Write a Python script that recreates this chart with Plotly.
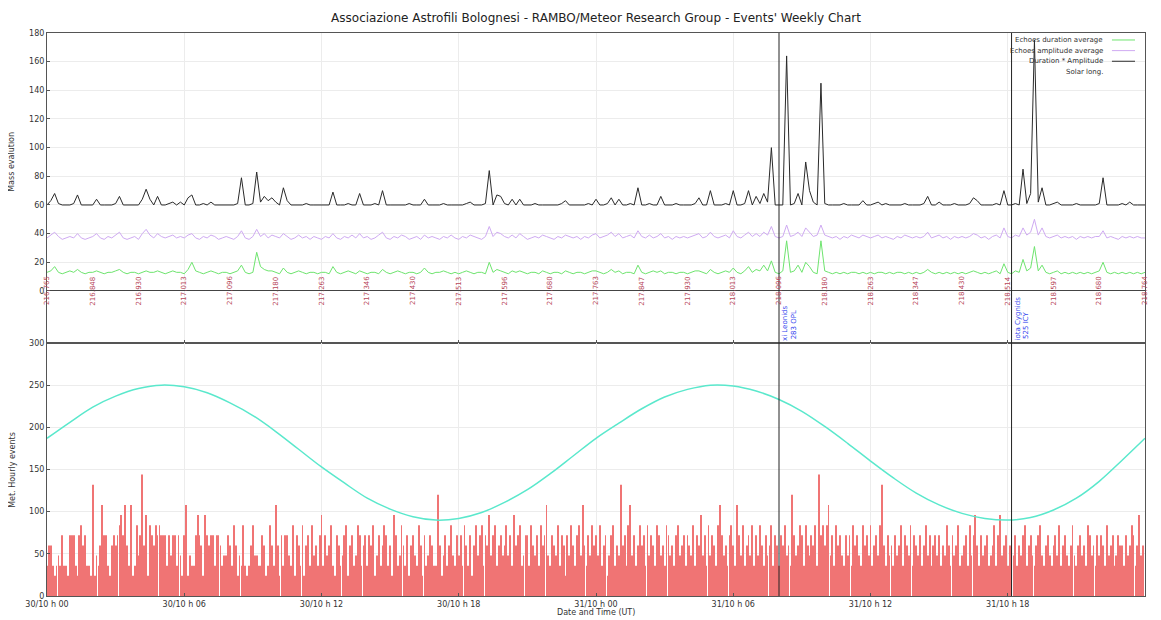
import pandas as pd
import plotly.graph_objects as go

TITLE = "Associazione Astrofili Bolognesi - RAMBO/Meteor Research Group - Events' Weekly Chart"
START = "2009-10-30 00:00"
END = "2009-11-01 00:00"

# top panel, one sample every 10 minutes (2 hours per row)
dur_amp = [
    60, 63, 68, 61, 60, 60, 60, 61, 67, 60, 60, 60,
    60, 64, 60, 60, 60, 60, 61, 66, 60, 60, 60, 60,
    60, 64, 71, 64, 60, 66, 60, 60, 61, 62, 60, 62,
    60, 65, 67, 60, 60, 61, 60, 62, 60, 60, 60, 60,
    60, 60, 61, 79, 60, 60, 61, 83, 62, 66, 63, 65,
    62, 60, 72, 63, 60, 60, 60, 60, 61, 60, 60, 60,
    60, 60, 60, 69, 60, 60, 60, 61, 60, 60, 68, 60,
    60, 60, 61, 60, 70, 60, 60, 60, 60, 60, 60, 61,
    60, 60, 60, 64, 60, 60, 60, 60, 61, 60, 60, 60,
    60, 60, 61, 62, 60, 60, 60, 61, 84, 60, 67, 66,
    61, 60, 64, 60, 64, 60, 60, 60, 61, 60, 60, 60,
    60, 60, 60, 61, 63, 60, 60, 60, 60, 60, 61, 60,
    64, 60, 60, 61, 65, 60, 64, 60, 60, 61, 60, 72,
    60, 60, 61, 60, 60, 66, 60, 60, 60, 61, 60, 60,
    60, 60, 61, 65, 60, 60, 70, 60, 60, 60, 61, 60,
    70, 60, 60, 61, 70, 60, 66, 61, 68, 62, 100, 60,
    60, 60, 164, 60, 61, 68, 60, 90, 70, 62, 60, 145,
    61, 60, 60, 60, 60, 61, 60, 60, 60, 60, 63, 60,
    60, 61, 62, 60, 61, 60, 60, 60, 60, 61, 60, 60,
    60, 60, 61, 66, 60, 60, 62, 60, 60, 60, 61, 60,
    60, 60, 61, 65, 63, 60, 60, 60, 60, 61, 60, 70,
    60, 60, 61, 60, 85, 61, 68, 175, 62, 72, 60, 60,
    61, 62, 60, 60, 60, 60, 61, 60, 60, 60, 60, 60,
    61, 79, 60, 60, 60, 60, 61, 60, 62, 60, 60, 60,
    60,
]
amp_avg = [
    37, 39, 41, 38, 36, 37, 38, 37, 40, 37, 36, 37,
    38, 40, 37, 36, 38, 37, 39, 41, 37, 36, 37, 38,
    36, 40, 43, 39, 37, 40, 38, 37, 38, 39, 37, 38,
    37, 39, 40, 37, 36, 38, 37, 39, 38, 36, 37, 38,
    37, 36, 38, 42, 37, 36, 38, 43, 38, 40, 37, 39,
    38, 37, 40, 38, 36, 37, 39, 37, 38, 36, 38, 37,
    36, 38, 37, 40, 37, 36, 38, 37, 39, 37, 40, 37,
    38, 36, 37, 39, 41, 37, 36, 38, 37, 39, 38, 36,
    37, 38, 36, 39, 37, 38, 37, 36, 38, 37, 39, 37,
    36, 38, 37, 39, 38, 37, 36, 38, 45, 38, 41, 40,
    38, 37, 39, 37, 40, 38, 36, 37, 38, 37, 39, 38,
    37, 36, 38, 37, 39, 38, 37, 38, 36, 38, 37, 39,
    40, 37, 38, 39, 41, 38, 40, 37, 38, 39, 37, 42,
    38, 37, 39, 37, 38, 40, 37, 38, 36, 38, 37, 38,
    37, 38, 39, 40, 37, 38, 41, 38, 37, 38, 39, 37,
    42, 38, 37, 39, 41, 38, 40, 38, 41, 39, 45, 38,
    37, 38, 46, 38, 39, 41, 38, 44, 41, 38, 39, 46,
    39, 38, 37, 38, 36, 38, 37, 39, 38, 37, 39, 38,
    37, 38, 39, 37, 38, 37, 36, 38, 37, 39, 38, 37,
    38, 37, 38, 41, 37, 38, 39, 37, 38, 36, 38, 37,
    38, 37, 38, 40, 39, 37, 38, 36, 38, 39, 37, 44,
    38, 37, 39, 38, 44, 39, 41, 50, 39, 44, 38, 37,
    38, 39, 37, 38, 37, 38, 36, 38, 37, 38, 37, 38,
    38, 42, 37, 38, 37, 36, 38, 37, 38, 37, 38, 37,
    37,
]
dur_avg = [
    13, 14, 17, 13, 12, 13, 14, 13, 15, 13, 12, 13,
    13, 14, 13, 12, 13, 13, 14, 15, 13, 12, 13, 13,
    12, 13, 14, 13, 13, 14, 13, 12, 13, 14, 13, 13,
    12, 15, 20, 14, 13, 12, 13, 14, 13, 12, 13, 13,
    12, 13, 14, 18, 13, 12, 13, 27, 17, 15, 14, 14,
    13, 12, 16, 13, 12, 13, 14, 13, 12, 13, 13, 12,
    13, 13, 12, 17, 13, 12, 13, 14, 13, 12, 14, 13,
    12, 13, 13, 12, 15, 13, 12, 13, 14, 13, 12, 13,
    13, 12, 13, 16, 13, 12, 13, 13, 14, 13, 12, 13,
    12, 13, 14, 13, 12, 13, 13, 12, 20, 13, 15, 14,
    13, 12, 14, 13, 14, 13, 12, 13, 13, 12, 14, 13,
    12, 13, 13, 12, 14, 13, 12, 13, 13, 12, 13, 14,
    14, 13, 12, 13, 15, 13, 14, 12, 13, 13, 12, 18,
    13, 12, 13, 14, 13, 14, 12, 13, 13, 12, 13, 13,
    12, 13, 14, 14, 13, 12, 15, 13, 12, 13, 14, 13,
    16, 13, 12, 14, 17, 13, 15, 14, 18, 14, 21, 13,
    12, 14, 35, 13, 14, 18, 13, 20, 17, 13, 12, 35,
    14, 13, 12, 13, 12, 13, 12, 13, 13, 12, 13, 12,
    13, 12, 13, 13, 12, 13, 12, 13, 13, 12, 13, 12,
    13, 12, 13, 15, 13, 12, 13, 12, 13, 12, 13, 12,
    13, 12, 13, 14, 13, 12, 13, 12, 13, 14, 12, 19,
    13, 12, 14, 13, 22, 14, 16, 31, 14, 18, 13, 12,
    13, 14, 12, 13, 12, 13, 12, 13, 12, 13, 12, 13,
    14, 20, 13, 12, 13, 12, 13, 12, 13, 12, 13, 12,
    13,
]

# bottom panel, hourly rate from 5 minute bins (one hour per row)
hourly_events = [
    36, 60, 60, 36, 24, 36, 48, 36, 72, 36, 36, 24,
    72, 72, 72, 36, 24, 72, 84, 60, 72, 36, 36, 24,
    132, 24, 48, 36, 60, 108, 72, 72, 36, 24, 60, 72,
    60, 72, 84, 96, 72, 108, 60, 36, 108, 24, 36, 84,
    48, 72, 144, 60, 96, 24, 84, 72, 60, 84, 72, 84,
    72, 72, 72, 36, 72, 48, 72, 72, 36, 72, 48, 24,
    72, 108, 24, 48, 36, 36, 72, 96, 72, 60, 24, 96,
    72, 60, 72, 72, 36, 72, 72, 60, 36, 48, 48, 72,
    60, 36, 84, 60, 24, 48, 36, 84, 36, 24, 36, 60,
    84, 48, 48, 36, 36, 72, 60, 24, 36, 84, 60, 36,
    108, 60, 24, 72, 36, 72, 72, 48, 36, 84, 24, 72,
    60, 36, 84, 24, 60, 72, 36, 84, 48, 60, 36, 72,
    96, 36, 72, 48, 60, 84, 36, 24, 72, 60, 36, 48,
    72, 84, 24, 60, 72, 36, 48, 84, 72, 36, 60, 72,
    36, 72, 60, 84, 24, 48, 72, 36, 60, 84, 72, 36,
    60, 24, 96, 72, 36, 48, 84, 60, 36, 72, 24, 60,
    72, 48, 36, 84, 60, 24, 72, 36, 48, 72, 60, 36,
    36, 120, 60, 24, 48, 72, 36, 60, 84, 48, 36, 72,
    48, 72, 36, 84, 60, 36, 72, 24, 60, 84, 48, 72,
    84, 36, 72, 60, 96, 48, 72, 84, 36, 60, 72, 48,
    60, 84, 48, 72, 36, 96, 60, 72, 84, 36, 48, 72,
    72, 36, 84, 60, 48, 72, 36, 84, 60, 72, 108, 48,
    36, 72, 60, 48, 84, 36, 72, 60, 24, 72, 48, 84,
    60, 36, 72, 84, 48, 108, 60, 36, 72, 48, 84, 60,
    72, 48, 84, 36, 60, 72, 24, 48, 72, 84, 36, 60,
    48, 132, 60, 72, 36, 84, 108, 48, 72, 36, 60, 84,
    60, 72, 36, 84, 48, 72, 60, 36, 84, 72, 48, 60,
    36, 84, 72, 48, 60, 36, 72, 84, 48, 60, 72, 36,
    72, 60, 48, 84, 36, 72, 60, 96, 48, 72, 36, 84,
    48, 72, 60, 36, 84, 108, 72, 48, 60, 36, 72, 84,
    60, 36, 108, 72, 48, 84, 36, 60, 72, 48, 84, 36,
    72, 48, 84, 60, 36, 72, 48, 60, 84, 36, 72, 60,
    36, 72, 60, 84, 48, 60, 36, 120, 72, 48, 60, 84,
    72, 36, 84, 60, 48, 72, 60, 84, 36, 144, 72, 84,
    60, 84, 108, 48, 72, 36, 84, 60, 72, 48, 36, 72,
    48, 72, 36, 84, 60, 72, 48, 36, 84, 60, 72, 48,
    84, 36, 60, 72, 48, 84, 132, 60, 36, 72, 48, 60,
    36, 72, 48, 60, 84, 36, 72, 60, 48, 84, 36, 72,
    60, 48, 72, 36, 60, 84, 48, 72, 36, 60, 72, 48,
    72, 36, 60, 48, 84, 60, 36, 72, 48, 60, 84, 36,
    48, 60, 72, 36, 84, 48, 72, 96, 60, 36, 72, 48,
    60, 72, 36, 48, 60, 84, 36, 72, 96, 48, 60, 72,
    36, 60, 84, 48, 72, 36, 60, 48, 72, 84, 36, 60,
    72, 48, 36, 60, 72, 84, 48, 36, 60, 72, 48, 36,
    60, 72, 48, 84, 36, 60, 72, 48, 36, 60, 84, 48,
    36, 60, 72, 48, 60, 36, 84, 72, 48, 60, 36, 72,
    48, 72, 60, 36, 84, 48, 60, 72, 36, 48, 72, 60,
    60, 36, 72, 48, 60, 84, 72, 36, 60, 96, 48, 60,
]

# solar curve, hourly
solar_curve = [
    187, 206, 224, 237, 246, 250, 248, 241, 229, 214, 195, 174,
    153, 134, 116, 103, 94, 90, 92, 99, 111, 126, 145, 166,
    187, 205, 222, 236, 245, 250, 249, 243, 233, 219, 201, 181,
    160, 140, 122, 108, 98, 92, 90, 93, 102, 116, 136, 161,
    187,
]

# solar longitude every 2 hours
solar_long = [
    "216.765", "216.848", "216.930", "217.013", "217.096", "217.180", "217.263",
    "217.346", "217.430", "217.513", "217.596", "217.680", "217.763", "217.847",
    "217.930", "218.013", "218.096", "218.180", "218.263", "218.347", "218.430",
    "218.514", "218.597", "218.680", "218.764",
]

shower_times = ["2009-10-31 08:00", "2009-10-31 18:10"]
shower_names = ["xi Leonids", "iota Cygnids"]
shower_codes = ["283 OPL", "525 ICY"]

legend_names = ["Echoes duration average", "Echoes amplitude average",
                "Duration * Amplitude", "Solar long."]

GREEN = "#6ee46e"
PURPLE = "#cfaaf2"
BLACK = "#2a2a2a"
CYAN = "#5ae8cc"
RED = "#f07474"
FONT = "DejaVu Sans"

t10 = pd.date_range(START, END, freq="10min")
t5 = pd.date_range(START, periods=len(hourly_events), freq="5min")
t1h = pd.date_range(START, END, freq="1h")
t2h = pd.date_range(START, END, freq="2h")

SPLIT = 0.4494

fig = go.Figure()
fig.add_trace(go.Scatter(x=t10, y=dur_avg, mode="lines", line=dict(color=GREEN, width=1),
                         xaxis="x", yaxis="y"))
fig.add_trace(go.Scatter(x=t10, y=amp_avg, mode="lines", line=dict(color=PURPLE, width=1),
                         xaxis="x", yaxis="y"))
fig.add_trace(go.Scatter(x=t10, y=dur_amp, mode="lines", line=dict(color=BLACK, width=1),
                         xaxis="x", yaxis="y"))
fig.add_trace(go.Bar(x=t5, y=hourly_events, width=130000, marker=dict(color=RED, line=dict(width=0)),
                     xaxis="x2", yaxis="y2"))
fig.add_trace(go.Scatter(x=t1h, y=solar_curve, mode="lines", line=dict(color=CYAN, width=1.5, shape="spline"),
                         xaxis="x2", yaxis="y2"))

annotations = []
for t, lab in zip(t2h, solar_long):
    annotations.append(dict(x=t, y=0, xref="x", yref="y", text=lab, showarrow=False,
                            textangle=-90, font=dict(size=7, color="#b8475a"),
                            xanchor="center", yanchor="middle"))

shapes = []
for t, name, code in zip(shower_times, shower_names, shower_codes):
    shapes.append(dict(type="line", xref="x", yref="paper", x0=t, x1=t, y0=0, y1=1,
                       line=dict(color="#222", width=1)))
    annotations.append(dict(x=t, y=-36.3, xref="x", yref="y", text=name, showarrow=False,
                            textangle=-90, font=dict(size=7, color="#3344ee"),
                            xanchor="left", yanchor="bottom", xshift=0))
    annotations.append(dict(x=t, y=-24, xref="x", yref="y", text=code, showarrow=False,
                            textangle=-90, font=dict(size=7, color="#3344ee"),
                            xanchor="left", yanchor="middle", xshift=9))

# legend, text on the left and sample on the right like gnuplot
leg_colors = [GREEN, PURPLE, BLACK, None]
for k, (name, col) in enumerate(zip(legend_names, leg_colors)):
    yp = 0.9876 - k * 0.0189
    annotations.append(dict(x=0.9636, y=yp, xref="paper", yref="paper", text=name, showarrow=False,
                            font=dict(size=7, color="#333"), xanchor="right", yanchor="middle"))
    if col:
        shapes.append(dict(type="line", xref="paper", yref="paper", x0=0.9699, x1=0.9909,
                           y0=yp, y1=yp, line=dict(color=col, width=1)))

annotations.append(dict(x=-0.032, y=0.771, xref="paper", yref="paper", text="Mass evalution",
                        showarrow=False, textangle=-90, font=dict(size=8, color="#333"),
                        xanchor="center", yanchor="middle"))
annotations.append(dict(x=-0.032, y=0.2238, xref="paper", yref="paper", text="Met. Hourly events",
                        showarrow=False, textangle=-90, font=dict(size=8, color="#333"),
                        xanchor="center", yanchor="middle"))
annotations.append(dict(x=0.5, y=-0.030, xref="paper", yref="paper", text="Date and Time (UT)",
                        showarrow=False, font=dict(size=8, color="#333"), yanchor="middle"))

SIXH = 6 * 3600 * 1000
axis_common = dict(showline=True, mirror=True, linecolor="#555", linewidth=1, automargin=False,
                   gridcolor="#ececec", tickfont=dict(size=8, color="#333"),
                   ticks="inside", ticklen=3, tickcolor="#555")

# the page body has an 8px margin, so the figure is a bit smaller than the window
fig.update_layout(
    width=1153, height=612,
    margin=dict(l=39, r=16, t=25, b=24),
    paper_bgcolor="white", plot_bgcolor="white",
    font=dict(family=FONT, color="#333"),
    showlegend=False,
    title=dict(text=TITLE, x=0.5, xref="paper", xanchor="center", y=0.9837, yanchor="middle",
               font=dict(size=12, color="#222"), automargin=False),
    xaxis=dict(type="date", range=[START, END], anchor="y", showticklabels=False,
               dtick=SIXH, showgrid=True, **axis_common),
    yaxis=dict(domain=[SPLIT, 1], range=[-36.3, 180], tickvals=list(range(0, 181, 20)),
               showgrid=True, zeroline=True, zerolinecolor="#444", zerolinewidth=1,
               anchor="x", **axis_common),
    xaxis2=dict(type="date", range=[START, END], anchor="y2", matches="x",
                dtick=SIXH, tickformat="%d/%m h %H", showgrid=True, **axis_common),
    yaxis2=dict(domain=[0, SPLIT], range=[0, 300], dtick=50, showgrid=True,
                zeroline=False, anchor="x2", **axis_common),
    annotations=annotations,
    shapes=shapes,
)

fig.write_html("out.html")
